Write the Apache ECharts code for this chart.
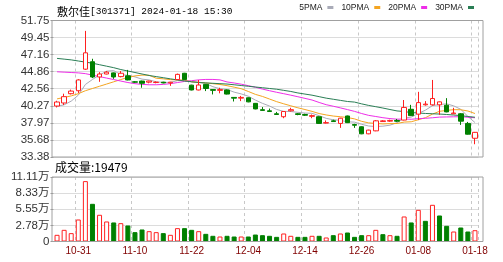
<!DOCTYPE html>
<html><head><meta charset="utf-8">
<script src="https://cdn.jsdelivr.net/npm/echarts@6/dist/echarts.min.js"></script>
<style>html,body{margin:0;padding:0;background:#fff}#c{width:503px;height:262px}</style>
</head><body><div id="c"></div>
<script>
const dates = ['10-26','10-27','10-30','10-31','11-01','11-02','11-03','11-06','11-07','11-08','11-09','11-10','11-13','11-14','11-15','11-16','11-17','11-20','11-21','11-22','11-23','11-24','11-27','11-28','11-29','11-30','12-01','12-04','12-05','12-06','12-07','12-08','12-11','12-12','12-13','12-14','12-15','12-18','12-19','12-20','12-21','12-22','12-25','12-26','12-27','12-28','12-29','01-02','01-03','01-04','01-05','01-08','01-09','01-10','01-11','01-12','01-15','01-16','01-17','01-18'];
// [open, close, low, high]
const candles = [
[40.24,40.78,40.05,40.95],[40.65,41.5,40.38,41.9],[41.9,42.25,41.8,42.45],[42.3,43.75,42.0,43.85],[45.2,47.4,45.1,50.35],
[46.2,44.15,44.0,46.6],[44.15,44.55,43.5,44.8],[44.55,44.8,44.5,44.95],[44.7,44.15,43.9,44.75],[44.2,44.65,44.1,44.95],
[44.3,43.75,43.7,45.1],[43.5,43.45,43.35,43.6],[43.6,43.3,42.7,43.65],[43.45,43.6,43.3,43.65],[43.4,43.45,43.3,43.55],
[43.45,43.35,43.3,43.5],[43.35,43.45,42.95,43.5],[43.8,44.5,43.75,44.6],[44.65,43.8,43.75,44.7],[43.05,42.4,42.35,43.1],
[42.4,43.07,42.35,43.75],[43.15,42.6,42.25,43.2],[42.45,42.35,41.8,42.5],[42.35,42.45,41.95,42.7],[42.4,41.85,41.8,42.45],
[41.4,41.3,40.85,41.45],[41.3,41.4,40.9,41.6],[41.35,40.8,40.75,41.4],[40.6,39.85,39.8,40.65],[39.75,39.65,39.6,40.1],
[39.6,39.5,39.45,39.9],[39.2,39.1,39.05,39.45],[38.8,39.5,38.6,39.55],[39.6,39.75,39.5,40.0],[39.2,39.1,39.0,39.3],
[39.1,39.0,38.9,39.2],[38.85,38.95,38.6,39.1],[38.8,37.9,37.85,38.85],[37.95,38.0,37.9,38.3],[38.25,38.15,38.1,38.4],
[37.9,38.6,37.3,38.65],[38.9,38.0,37.95,38.95],[37.75,37.65,37.3,37.85],[37.45,36.5,36.45,37.5],[36.5,37.0,36.45,37.05],
[36.9,38.25,36.85,38.35],[38.15,38.25,38.1,38.35],[38.2,38.3,38.1,38.4],[38.3,38.2,38.1,38.5],[38.35,40.05,38.3,41.05],
[39.8,38.95,38.9,40.4],[39.15,40.7,38.35,42.15],[40.4,40.5,40.3,40.9],[40.4,41.25,40.3,43.75],[40.4,40.8,39.05,40.85],
[40.35,39.45,39.4,41.3],[39.2,39.3,39.15,40.0],[39.2,38.2,37.7,39.3],[37.9,36.45,36.4,38.1],[35.9,36.7,35.1,36.75]
];
const volumes = [11500,20100,14400,37900,104000,64900,46000,34500,32800,31600,27600,16100,20700,17800,16100,14400,11500,23000,23000,20100,17800,13200,9800,8600,9800,8600,8600,8600,12000,10900,9800,8000,13800,9800,8000,8000,9800,9800,6900,10900,13800,15500,8000,10900,10900,20100,12600,10900,9800,43100,32800,54600,35600,63200,44800,27000,17200,24100,17200,19479];
const volUp = [1,1,1,1,1,0,1,1,0,1,0,0,0,1,1,0,1,1,0,0,1,0,0,1,0,0,1,0,0,0,0,0,1,1,0,0,1,0,1,0,1,0,0,0,1,1,0,1,0,1,0,1,0,1,0,0,1,0,0,1];
const ma5 = [40.2,40.4,40.9,41.7,43.14,43.81,44.42,44.93,45.01,44.46,44.38,44.16,43.86,43.75,43.5,43.42,43.42,43.66,43.7,43.5,43.44,43.27,42.84,42.57,42.46,42.11,41.87,41.56,41.04,40.6,40.24,39.78,39.52,39.5,39.39,39.29,39.26,38.94,38.58,38.39,38.31,38.12,38.07,37.78,37.55,37.48,37.53,37.66,38.0,38.61,38.75,39.24,39.68,40.29,40.44,40.54,40.26,39.8,38.84,38.02];
const ma10 = [41.2,41.4,41.6,41.9,42.3,42.6,42.9,43.2,43.5,43.8,44.1,44.29,44.4,44.38,43.98,43.9,43.79,43.76,43.73,43.5,43.43,43.35,43.25,43.14,42.98,42.78,42.57,42.2,41.81,41.53,41.18,40.83,40.54,40.27,40.0,39.77,39.52,39.23,39.04,38.89,38.8,38.69,38.51,38.18,37.97,37.9,37.83,37.87,37.89,38.08,38.12,38.39,38.67,39.15,39.53,39.65,39.75,39.74,39.57,39.23];
const ma20 = [44.85,44.8,44.75,44.7,44.6,44.4,44.2,44.0,43.8,43.6,43.4,43.25,43.15,43.1,43.1,43.15,43.25,43.4,43.55,43.65,43.76,43.82,43.82,43.76,43.48,43.34,43.18,42.98,42.77,42.52,42.3,42.09,41.9,41.7,41.49,41.27,41.05,40.72,40.42,40.21,39.99,39.76,39.52,39.23,38.98,38.83,38.67,38.55,38.47,38.49,38.46,38.54,38.59,38.66,38.75,38.77,38.79,38.8,38.73,38.66];
const ma30 = [46.65,46.55,46.45,46.3,46.15,46.0,45.8,45.6,45.4,45.15,44.95,44.75,44.55,44.35,44.2,44.05,43.9,43.75,43.6,43.5,43.4,43.35,43.3,43.25,43.2,43.1,43.0,42.9,42.8,42.7,42.6,42.5,42.35,42.2,42.0,41.85,41.7,41.5,41.3,41.15,41.0,40.85,40.77,40.53,40.32,40.15,39.97,39.77,39.58,39.5,39.36,39.3,39.24,39.2,39.16,39.1,39.03,38.95,38.83,38.73];
const priceTicks = ['33.38','35.68','37.97','40.27','42.56','44.86','47.16','49.45','51.75'];
const volTicks = ['0','2.78万','5.55万','8.33万','11.11万'];
const maNames = ['5PMA','10PMA','20PMA','30PMA'];
const lastVolume = 19479;

const P_MIN = 33.38, P_MAX = 51.75, P_INT = (51.75-33.38)/8;
const V_MAX = 111100, V_INT = 27775;
const UP = '#ff2020', DOWN = '#008000';
const maColors = ['#a9abb8','#f4a521','#ee2ee8','#2a7e55'];
const labelIdx = i => (i - 3) % 8 === 0;
const vDash = {show:true, interval:(i)=>labelIdx(i), lineStyle:{color:'#c8c8c8', type:[3,3], width:1}};
const L = 53.5, W = 425;

const chart = echarts.init(document.getElementById('c'), null, {renderer:'canvas'});
chart.setOption({
  animation:false,
  backgroundColor:'#fff',
  title:{
    text:'{a|敷尔佳}{b|[301371] 2024-01-18 15:30}', left:52, top:1,
    textStyle:{fontWeight:'normal', rich:{
      a:{fontFamily:'"Noto Sans CJK SC"', fontSize:11, color:'#000', fontWeight:'normal'},
      b:{fontFamily:'"Liberation Mono"', fontSize:9.5, color:'#000', fontWeight:'normal'}
    }}
  },
  legend:{
    data:maNames, right:29, top:3, padding:0, width:240, align:'right', icon:'rect', itemWidth:6, itemHeight:3, itemGap:8,
    textStyle:{fontSize:8.5, color:'#222', fontFamily:'"Liberation Sans"'},
    selectedMode:false
  },
  graphic:[
    {type:'rect', shape:{x:52, y:20.5, width:431, height:136.5}, style:{fill:'none', stroke:'#a0a0a0', lineWidth:1}, z:10},
    {type:'rect', shape:{x:52, y:177, width:431, height:64.5}, style:{fill:'none', stroke:'#a0a0a0', lineWidth:1}, z:10},
    {type:'text', left:55, top:161, style:{text:'成交量:' + lastVolume, fontSize:12, fontFamily:'"Noto Sans CJK SC"', fill:'#000'}}
  ],
  grid:[
    {left:L, width:W, top:20.5, height:136.5},
    {left:L, width:W, top:177, height:64.5}
  ],
  xAxis:[
    {type:'category', data:dates, gridIndex:0, boundaryGap:true, axisLine:{show:false}, axisTick:{show:false}, axisLabel:{show:false}, splitLine:vDash},
    {type:'category', data:dates, gridIndex:1, boundaryGap:true, axisLine:{show:false}, axisTick:{show:false},
     axisLabel:{interval:(i)=>labelIdx(i), color:'#800000', fontSize:10, fontFamily:'"Liberation Sans"', margin:5}, splitLine:vDash}
  ],
  yAxis:[
    {type:'value', gridIndex:0, min:P_MIN, max:P_MAX, interval:P_INT, axisLine:{show:false},
     axisTick:{show:true, length:3, lineStyle:{color:'#999'}},
     axisLabel:{fontSize:11.5, color:'#333', fontFamily:'"Liberation Sans"', margin:4,
       formatter:(v)=>priceTicks[Math.round((v-P_MIN)/P_INT)]},
     splitLine:{show:true, lineStyle:{color:'#dcdcdc', width:1}}},
    {type:'value', gridIndex:1, min:0, max:V_MAX, interval:V_INT, axisLine:{show:false},
     axisTick:{show:true, length:3, lineStyle:{color:'#999'}},
     axisLabel:{fontSize:11.5, color:'#333', fontFamily:'"Liberation Sans", "Noto Sans CJK SC"', margin:4,
       formatter:(v)=>volTicks[Math.round(v/V_INT)]},
     splitLine:{show:true, lineStyle:{color:'#dcdcdc', width:1}}}
  ],
  series:[
    {type:'candlestick', name:'K', xAxisIndex:0, yAxisIndex:0, data:candles, barWidth:5,
     itemStyle:{color:'#ffffff', color0:DOWN, borderColor:UP, borderColor0:DOWN, borderWidth:1}, z:5},
    ...maNames.map((n,k)=>({type:'line', name:n, xAxisIndex:0, yAxisIndex:0, data:[ma5,ma10,ma20,ma30][k],
      showSymbol:false, symbol:'none', smooth:false, lineStyle:{width:1, color:maColors[k]}, itemStyle:{color:maColors[k]}, z:3})),
    {type:'bar', name:'VOL', xAxisIndex:1, yAxisIndex:1, barWidth:5,
     data:volumes.map((v,i)=>({value:v, itemStyle: volUp[i] ? {color:'#ffffff', borderColor:UP, borderWidth:1} : {color:DOWN, borderColor:DOWN, borderWidth:1}}))}
  ]
});
</script></body></html>
